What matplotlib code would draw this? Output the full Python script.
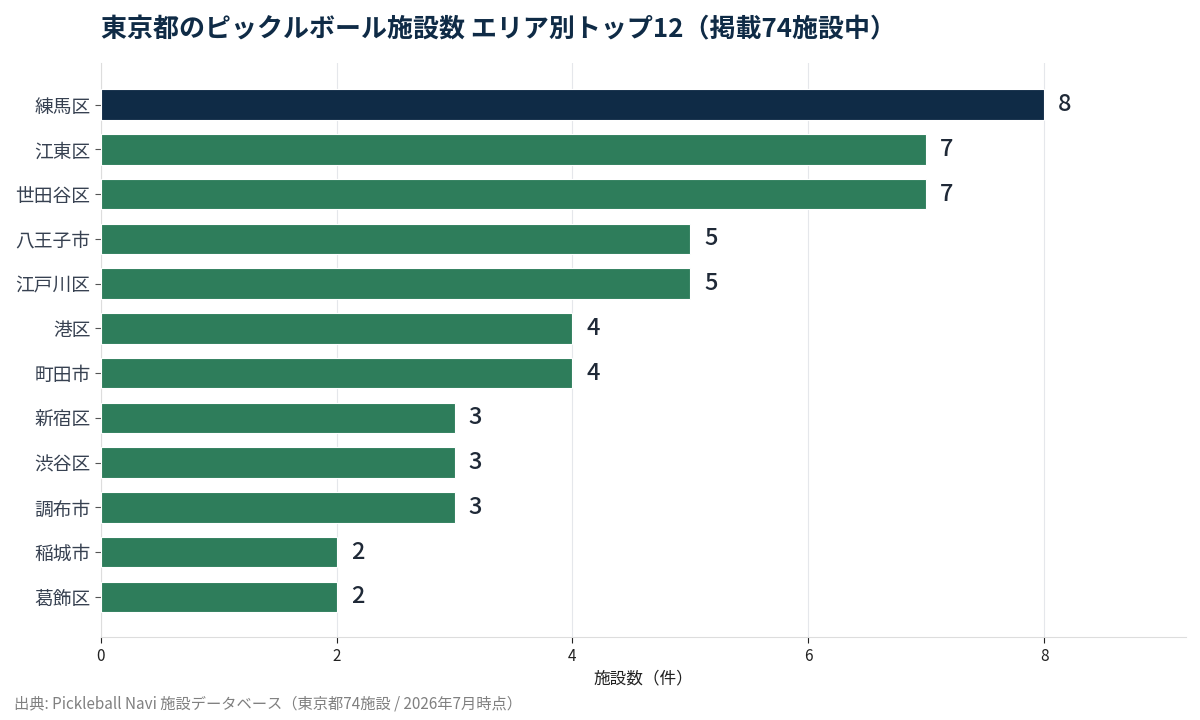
import matplotlib
matplotlib.use("Agg")
import matplotlib.pyplot as plt
import numpy as np

plt.rcParams["font.family"] = ["Noto Sans CJK JP", "DejaVu Sans"]

areas = ["練馬区", "江東区", "世田谷区", "八王子市", "江戸川区", "港区",
         "町田市", "新宿区", "渋谷区", "調布市", "稲城市", "葛飾区"]
counts = [8, 7, 7, 5, 5, 4, 4, 3, 3, 3, 2, 2]

title = "東京都のピックルボール施設数 エリア別トップ12（掲載74施設中）"
xlabel = "施設数（件）"
source = "出典: Pickleball Navi 施設データベース（東京都74施設 / 2026年7月時点）"

navy = "#0f2b46"
green = "#2e7d5b"

fig = plt.figure(figsize=(12, 7.2), dpi=100)
ax = fig.add_axes([0.084, 0.115, 0.904, 0.797])

y = np.arange(len(areas))
colors = [navy if i == 0 else green for i in range(len(areas))]
ax.barh(y, counts, height=0.68, color=colors, edgecolor="white", linewidth=0.8, zorder=3)

for yi, v in zip(y, counts):
    ax.text(v + 0.12, yi, str(v), va="center", ha="left", fontsize=17,
            fontweight="medium", color="#1f2937")

ax.set_yticks(y)
ax.set_yticklabels(areas, fontsize=13.5, color="#374151")
ax.set_ylim(11.9, -0.92)
ax.set_xlim(0, 9.2)
ax.set_xticks([0, 2, 4, 6, 8])
ax.tick_params(axis="x", labelsize=11, colors="#222222", length=4)
ax.tick_params(axis="y", length=4, color="#555555")
ax.set_xlabel(xlabel, fontsize=12, color="#222222", labelpad=4)

ax.grid(axis="x", color="#e5e7eb", linewidth=0.8, zorder=0)
for s in ["top", "right"]:
    ax.spines[s].set_visible(False)
for s in ["left", "bottom"]:
    ax.spines[s].set_color("#dddddd")

fig.text(0.084, 0.958, title, fontsize=18.7, fontweight="bold", color=navy,
         ha="left", va="center")
fig.text(0.012, 0.022, source, fontsize=11, color="#808080", ha="left", va="center")

fig.savefig("out.png", dpi=100)
